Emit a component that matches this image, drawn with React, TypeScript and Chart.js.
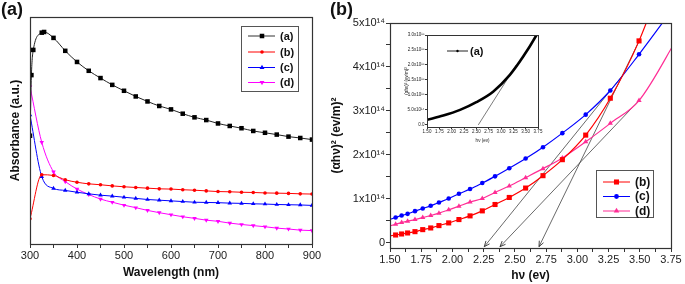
import React, { useEffect, useRef } from "react";
import { Chart, registerables } from "chart.js";

Chart.register(...registerables);

// ---------------- Panel (a): absorbance vs wavelength ----------------
const wlA = [300, 303, 307, 325, 330, 350, 375, 400, 425, 450, 475, 500, 525, 550, 575, 600, 625, 650, 675, 700, 725, 750, 775, 800, 825, 850, 875, 900];
const absA = [0.477, 0.744, 0.855, 0.931, 0.934, 0.908, 0.851, 0.802, 0.763, 0.731, 0.701, 0.675, 0.65, 0.628, 0.608, 0.593, 0.574, 0.558, 0.546, 0.531, 0.52, 0.51, 0.498, 0.49, 0.482, 0.473, 0.467, 0.46];
const wl = [300, 325, 350, 375, 400, 425, 450, 475, 500, 525, 550, 575, 600, 625, 650, 675, 700, 725, 750, 775, 800, 825, 850, 875, 900];
const absB = [0.111, 0.305, 0.302, 0.283, 0.272, 0.265, 0.261, 0.256, 0.252, 0.249, 0.246, 0.243, 0.242, 0.239, 0.237, 0.234, 0.231, 0.23, 0.228, 0.227, 0.225, 0.224, 0.223, 0.221, 0.22];
const absC = [0.568, 0.297, 0.245, 0.236, 0.228, 0.221, 0.215, 0.211, 0.206, 0.201, 0.196, 0.193, 0.19, 0.187, 0.184, 0.183, 0.182, 0.18, 0.179, 0.177, 0.176, 0.174, 0.173, 0.172, 0.17];
const absD = [0.693, 0.448, 0.318, 0.275, 0.242, 0.218, 0.198, 0.184, 0.171, 0.16, 0.148, 0.138, 0.129, 0.12, 0.113, 0.105, 0.1, 0.092, 0.086, 0.081, 0.076, 0.07, 0.066, 0.061, 0.059];
const wlTicks = [300, 350, 400, 450, 500, 550, 600, 650, 700, 750, 800, 850, 900];

// ---------------- Panel (b): Tauc plot, values in units of 1e14 ----------------
const hv = [1.449, 1.545, 1.593, 1.641, 1.7, 1.762, 1.826, 1.892, 1.97, 2.052, 2.141, 2.239, 2.341, 2.455, 2.586, 2.725, 2.88, 3.067, 3.264, 3.494, 3.81];
const tauB = [0.13, 0.176, 0.199, 0.222, 0.252, 0.298, 0.336, 0.39, 0.451, 0.527, 0.611, 0.725, 0.87, 1.03, 1.244, 1.526, 1.89, 2.449, 3.288, 4.593, 7.0];
const tauC = [0.48, 0.573, 0.619, 0.657, 0.718, 0.779, 0.84, 0.916, 1.007, 1.114, 1.221, 1.359, 1.51, 1.694, 1.915, 2.174, 2.494, 2.915, 3.464, 4.288, 5.5];
const tauD = [0.34, 0.42, 0.458, 0.489, 0.527, 0.573, 0.619, 0.672, 0.748, 0.832, 0.924, 1.007, 1.144, 1.29, 1.481, 1.686, 1.93, 2.297, 2.716, 3.236, 4.7];
const hvTicks = [1.5, 1.625, 1.75, 1.875, 2.0, 2.125, 2.25, 2.375, 2.5, 2.625, 2.75, 2.875, 3.0, 3.125, 3.25, 3.375, 3.5, 3.625, 3.75];
const tauTicks = [0, 0.5, 1, 1.5, 2, 2.5, 3, 3.5, 4, 4.5, 5];
// tangent (extrapolation) lines: start -> arrow tip
const tanStartX = [3.5, 3.36, 3.494];
const tanStartY = [4.62, 3.8, 3.236];
const tanEndX = [2.693, 2.255, 2.381];
const tanEndY = [-0.09, -0.09, -0.09];

// ---------------- Inset: sample (a), values in units of 1e15 ----------------
const hvInset = [1.5, 1.83, 2.17, 2.5, 2.84, 3.18, 3.45, 3.72, 3.8];
const tauA = [0.17, 0.31, 0.5, 0.76, 1.11, 1.67, 2.28, 3.0, 3.25];
const insetTicksX = [1.5, 1.75, 2.0, 2.25, 2.5, 2.75, 3.0, 3.25, 3.5, 3.75];
const insetTicksY = [0, 0.5, 1, 1.5, 2, 2.5, 3];
const insetTanX = [3.31, 2.54];
const insetTanY = [2.0, 0];

const FONT = "'Liberation Sans', Arial, Helvetica, sans-serif";
const AX = "#333";
const TXT = "#222";

function drawMarker(ctx: CanvasRenderingContext2D, shape: string, x: number, y: number, r: number, color: string) {
  ctx.save();
  ctx.fillStyle = color;
  ctx.beginPath();
  if (shape === "rect") {
    const s = r * Math.SQRT1_2;
    ctx.rect(x - s, y - s, 2 * s, 2 * s);
  } else if (shape === "circle") {
    ctx.arc(x, y, r, 0, Math.PI * 2);
  } else if (shape === "triangle") {
    ctx.moveTo(x, y - r);
    ctx.lineTo(x + r * 0.866, y + r * 0.5);
    ctx.lineTo(x - r * 0.866, y + r * 0.5);
    ctx.closePath();
  } else if (shape === "triangleDown") {
    ctx.moveTo(x, y + r);
    ctx.lineTo(x + r * 0.866, y - r * 0.5);
    ctx.lineTo(x - r * 0.866, y - r * 0.5);
    ctx.closePath();
  }
  ctx.fill();
  ctx.restore();
}

type Entry = { label: string; color: string; line: string; shape: string; r: number };

function legendPlugin(id: string, box: number[] | null, entries: Entry[], rows: number[], lineX: number[], markX: number, textX: number, fontSize: number) {
  return {
    id,
    afterDraw(chart: any) {
      const ctx: CanvasRenderingContext2D = chart.ctx;
      ctx.save();
      if (box) {
        ctx.strokeStyle = "#555";
        ctx.lineWidth = 1;
        ctx.strokeRect(box[0] + 0.5, box[1] + 0.5, box[2] - box[0], box[3] - box[1]);
      }
      entries.forEach((e, i) => {
        const y = rows[i];
        ctx.strokeStyle = e.line;
        ctx.lineWidth = 1;
        ctx.beginPath();
        ctx.moveTo(lineX[0], y);
        ctx.lineTo(lineX[1], y);
        ctx.stroke();
        drawMarker(ctx, e.shape, markX, y, e.r, e.color);
        ctx.fillStyle = "#111";
        ctx.font = `bold ${fontSize}px ${FONT}`;
        ctx.textBaseline = "middle";
        ctx.textAlign = "left";
        ctx.fillText(e.label, textX, y + 0.5);
      });
      ctx.restore();
    },
  };
}

function framePlugin(lw: number) {
  return {
    id: "frame",
    afterDatasetsDraw(chart: any) {
      const { ctx, chartArea } = chart;
      ctx.save();
      ctx.strokeStyle = AX;
      ctx.lineWidth = lw;
      ctx.strokeRect(Math.round(chartArea.left) + 0.5, Math.round(chartArea.top) + 0.5, Math.round(chartArea.right - chartArea.left), Math.round(chartArea.bottom - chartArea.top));
      ctx.restore();
    },
  };
}

function textPlugin(id: string, text: string, x: number, y: number, size: number) {
  return {
    id,
    afterDraw(chart: any) {
      const ctx: CanvasRenderingContext2D = chart.ctx;
      ctx.save();
      ctx.fillStyle = "#111";
      ctx.font = `bold ${size}px ${FONT}`;
      ctx.textBaseline = "middle";
      ctx.textAlign = "left";
      ctx.fillText(text, x, y);
      ctx.restore();
    },
  };
}

const arrowPlugin = {
  id: "arrows",
  afterDatasetsDraw(chart: any) {
    const { ctx } = chart;
    const xs = chart.scales.x;
    const ys = chart.scales.y;
    ctx.save();
    ctx.strokeStyle = "#333";
    ctx.lineWidth = 0.9;
    tanEndX.forEach((_, i) => {
      const x1 = xs.getPixelForValue(tanStartX[i]);
      const y1 = ys.getPixelForValue(tanStartY[i]);
      const x2 = xs.getPixelForValue(tanEndX[i]);
      const y2 = ys.getPixelForValue(tanEndY[i]);
      const a = Math.atan2(y1 - y2, x1 - x2);
      const L = 6;
      ctx.beginPath();
      ctx.moveTo(x2 + L * Math.cos(a + 0.4), y2 + L * Math.sin(a + 0.4));
      ctx.lineTo(x2, y2);
      ctx.lineTo(x2 + L * Math.cos(a - 0.4), y2 + L * Math.sin(a - 0.4));
      ctx.stroke();
    });
    ctx.restore();
  },
};

const pts = (xs: number[], ys: number[]) => xs.map((x, i) => ({ x, y: ys[i] }));

function makeA(): any {
  const ds = (label: string, xs: number[], ys: number[], color: string, line: string, style: string, r: number, rot = 0) => ({
    label,
    data: pts(xs, ys),
    borderColor: line,
    borderWidth: 1,
    pointStyle: style,
    pointRotation: rot,
    pointRadius: r,
    pointBackgroundColor: color,
    pointBorderColor: color,
    pointBorderWidth: 0,
    cubicInterpolationMode: "monotone",
  });
  return {
    type: "line",
    data: {
      datasets: [
        ds("(a)", wlA, absA, "#000", "#222", "rect", 3.2),
        ds("(b)", wl, absB, "#ff0000", "#ff0000", "circle", 1.8),
        ds("(c)", wl, absC, "#0000ff", "#0000ff", "triangle", 2.6),
        ds("(d)", wl, absD, "#ff00ff", "#ff00ff", "triangle", 2.6, 180),
      ],
    },
    options: {
      animation: false,
      responsive: false,
      devicePixelRatio: 1,
      events: [],
      layout: { padding: { left: 8, top: 17, right: 13, bottom: 4 } },
      plugins: { legend: { display: false }, tooltip: { enabled: false } },
      scales: {
        x: {
          type: "linear",
          min: 300,
          max: 900,
          afterBuildTicks: (s: any) => { s.ticks = wlTicks.map((v) => ({ value: v })); },
          afterFit: (s: any) => { s.height = 36; },
          ticks: {
            autoSkip: false, maxRotation: 0, padding: 1, color: TXT,
            font: { family: FONT, size: 11 },
            callback: (v: any) => (Number(v) % 100 === 0 ? String(v) : ""),
          },
          grid: { drawOnChartArea: false, tickLength: 4, color: AX },
          border: { display: false },
          title: { display: true, text: "Wavelength (nm)", color: "#111", padding: 0, font: { family: FONT, size: 12, weight: "bold" } },
        },
        y: {
          type: "linear",
          min: 0,
          max: 1,
          afterFit: (s: any) => { s.width = 22; },
          ticks: { display: false },
          grid: { display: false },
          border: { display: false },
          title: { display: true, text: "Absorbance (a.u.)", color: "#111", padding: 0, font: { family: FONT, size: 12, weight: "bold" } },
        },
      },
    },
    plugins: [
      framePlugin(1.2),
      legendPlugin("legA", [241, 26, 298, 91], [
        { label: "(a)", color: "#000", line: "#333", shape: "rect", r: 3.2 },
        { label: "(b)", color: "#ff0000", line: "#ff0000", shape: "circle", r: 1.8 },
        { label: "(c)", color: "#0000ff", line: "#0000ff", shape: "triangle", r: 2.8 },
        { label: "(d)", color: "#ff00ff", line: "#ff00ff", shape: "triangleDown", r: 2.8 },
      ], [36, 52, 67.5, 82.5], [248, 275], 262, 280, 11),
      textPlugin("panelA", "(a)", 1, 10, 18),
    ],
  };
}

function makeB(): any {
  const ds = (label: string, ys: number[], color: string, style: string, r: number) => ({
    label,
    data: pts(hv, ys),
    borderColor: color,
    borderWidth: 1.2,
    pointStyle: style,
    pointRadius: r,
    pointBackgroundColor: color,
    pointBorderColor: color,
    pointBorderWidth: 0,
    cubicInterpolationMode: "monotone",
  });
  const tan = (i: number) => ({
    label: "tangent" + i,
    data: [{ x: tanStartX[i], y: tanStartY[i] }, { x: tanEndX[i], y: tanEndY[i] }],
    borderColor: "#444",
    borderWidth: 0.8,
    pointRadius: 0,
    tension: 0,
  });
  const yLabel = (v: number) => (v === 0 ? "0" : `${v}x10\u00B9\u2074`);
  return {
    type: "line",
    data: {
      datasets: [
        ds("(b)", tauB, "#ff0000", "rect", 3.6),
        ds("(c)", tauC, "#0000ff", "circle", 2.3),
        ds("(d)", tauD, "#ff2d95", "triangle", 3.0),
        tan(0), tan(1), tan(2),
      ],
    },
    options: {
      animation: false,
      responsive: false,
      devicePixelRatio: 1,
      events: [],
      layout: { padding: { left: 4, top: 23, right: 14, bottom: 1 } },
      plugins: { legend: { display: false }, tooltip: { enabled: false } },
      scales: {
        x: {
          type: "linear",
          min: 1.5,
          max: 3.75,
          afterBuildTicks: (s: any) => { s.ticks = hvTicks.map((v) => ({ value: v })); },
          afterFit: (s: any) => { s.height = 35; },
          ticks: {
            autoSkip: false, maxRotation: 0, padding: 1, color: TXT,
            font: { family: FONT, size: 11 },
            callback: (v: any) => (Math.abs(Number(v) * 4 - Math.round(Number(v) * 4)) < 1e-6 ? Number(v).toFixed(2) : ""),
          },
          grid: { drawOnChartArea: false, tickLength: 4, color: AX },
          border: { display: false },
          title: { display: true, text: "h\u03BD (ev)", color: "#111", padding: 0, font: { family: FONT, size: 12, weight: "bold" } },
        },
        y: {
          type: "linear",
          min: -0.12,
          max: 5,
          afterBuildTicks: (s: any) => { s.ticks = tauTicks.map((v) => ({ value: v })); },
          afterFit: (s: any) => { s.width = 61; },
          ticks: {
            autoSkip: false, padding: 1, color: TXT,
            font: { family: FONT, size: 11 },
            callback: (v: any) => (Number.isInteger(Number(v)) ? yLabel(Number(v)) : ""),
          },
          grid: { drawOnChartArea: false, tickLength: 4, color: AX },
          border: { display: false },
          title: { display: true, text: "(\u03B1h\u03BD)\u00B2 (ev/m)\u00B2", color: "#111", padding: 0, font: { family: FONT, size: 12, weight: "bold" } },
        },
      },
    },
    plugins: [
      framePlugin(1.2),
      arrowPlugin,
      legendPlugin("legB", [271, 170, 328, 217], [
        { label: "(b)", color: "#ff0000", line: "#ff0000", shape: "rect", r: 3.6 },
        { label: "(c)", color: "#0000ff", line: "#0000ff", shape: "circle", r: 2.4 },
        { label: "(d)", color: "#ff2d95", line: "#ff2d95", shape: "triangle", r: 3.2 },
      ], [182, 196.5, 211], [278, 305], 291.5, 310, 12),
      textPlugin("panelB", "(b)", 5, 10, 18),
    ],
  };
}

function makeInset(): any {
  const yLabel = (v: number) => (v === 0 ? "0.0" : v < 1 ? `${(v * 10).toFixed(1)}x10\u00B9\u2074` : `${v.toFixed(1)}x10\u00B9\u2075`);
  return {
    type: "line",
    data: {
      datasets: [
        {
          label: "(a)",
          data: pts(hvInset, tauA),
          borderColor: "#000",
          borderWidth: 2.6,
          pointRadius: 0,
          cubicInterpolationMode: "monotone",
        },
        {
          label: "tangent",
          data: pts(insetTanX, insetTanY),
          borderColor: "#444",
          borderWidth: 0.7,
          pointRadius: 0,
          tension: 0,
        },
      ],
    },
    options: {
      animation: false,
      responsive: false,
      devicePixelRatio: 1,
      events: [],
      layout: { padding: { left: 4, top: 5, right: 7, bottom: 2 } },
      plugins: { legend: { display: false }, tooltip: { enabled: false } },
      scales: {
        x: {
          type: "linear",
          min: 1.5,
          max: 3.75,
          afterBuildTicks: (s: any) => { s.ticks = insetTicksX.map((v) => ({ value: v })); },
          afterFit: (s: any) => { s.height = 16; },
          ticks: {
            autoSkip: false, maxRotation: 0, padding: 0, color: TXT,
            font: { family: FONT, size: 4.5 },
            callback: (v: any) => Number(v).toFixed(2),
          },
          grid: { drawOnChartArea: false, tickLength: 2, color: AX },
          border: { display: false },
          title: { display: true, text: "h\u03BD (ev)", color: "#111", padding: 0, font: { family: FONT, size: 4.5 } },
        },
        y: {
          type: "linear",
          min: -0.07,
          max: 3,
          afterBuildTicks: (s: any) => { s.ticks = insetTicksY.map((v) => ({ value: v })); },
          afterFit: (s: any) => { s.width = 23; },
          ticks: {
            autoSkip: false, padding: 0.5, color: TXT,
            font: { family: FONT, size: 4.5 },
            callback: (v: any) => yLabel(Number(v)),
          },
          grid: { drawOnChartArea: false, tickLength: 2, color: AX },
          border: { display: false },
          title: { display: true, text: "(\u03B1h\u03BD)\u00B2 (ev/m)\u00B2", color: "#111", padding: 0, font: { family: FONT, size: 4.5 } },
        },
      },
    },
    plugins: [
      framePlugin(1),
      legendPlugin("legIn", null, [
        { label: "(a)", color: "#000", line: "#222", shape: "circle", r: 1.2 },
      ], [21], [47, 68], 57.5, 70, 11),
    ],
  };
}

export default function App() {
  const aRef = useRef<HTMLCanvasElement>(null);
  const bRef = useRef<HTMLCanvasElement>(null);
  const iRef = useRef<HTMLCanvasElement>(null);

  useEffect(() => {
    const charts = [
      new Chart(aRef.current as HTMLCanvasElement, makeA()),
      new Chart(bRef.current as HTMLCanvasElement, makeB()),
      new Chart(iRef.current as HTMLCanvasElement, makeInset()),
    ];
    return () => charts.forEach((c) => c.destroy());
  }, []);

  return (
    <div style={{ position: "fixed", left: 0, top: 0, width: 685, height: 284, background: "#fff", overflow: "hidden" }}>
      <canvas ref={aRef} width={325} height={284} style={{ position: "absolute", left: 0, top: 0, width: 325, height: 284 }} />
      <canvas ref={bRef} width={360} height={284} style={{ position: "absolute", left: 325, top: 0, width: 360, height: 284 }} />
      <canvas ref={iRef} width={145} height={115} style={{ position: "absolute", left: 400, top: 30, width: 145, height: 115 }} />
    </div>
  );
}
